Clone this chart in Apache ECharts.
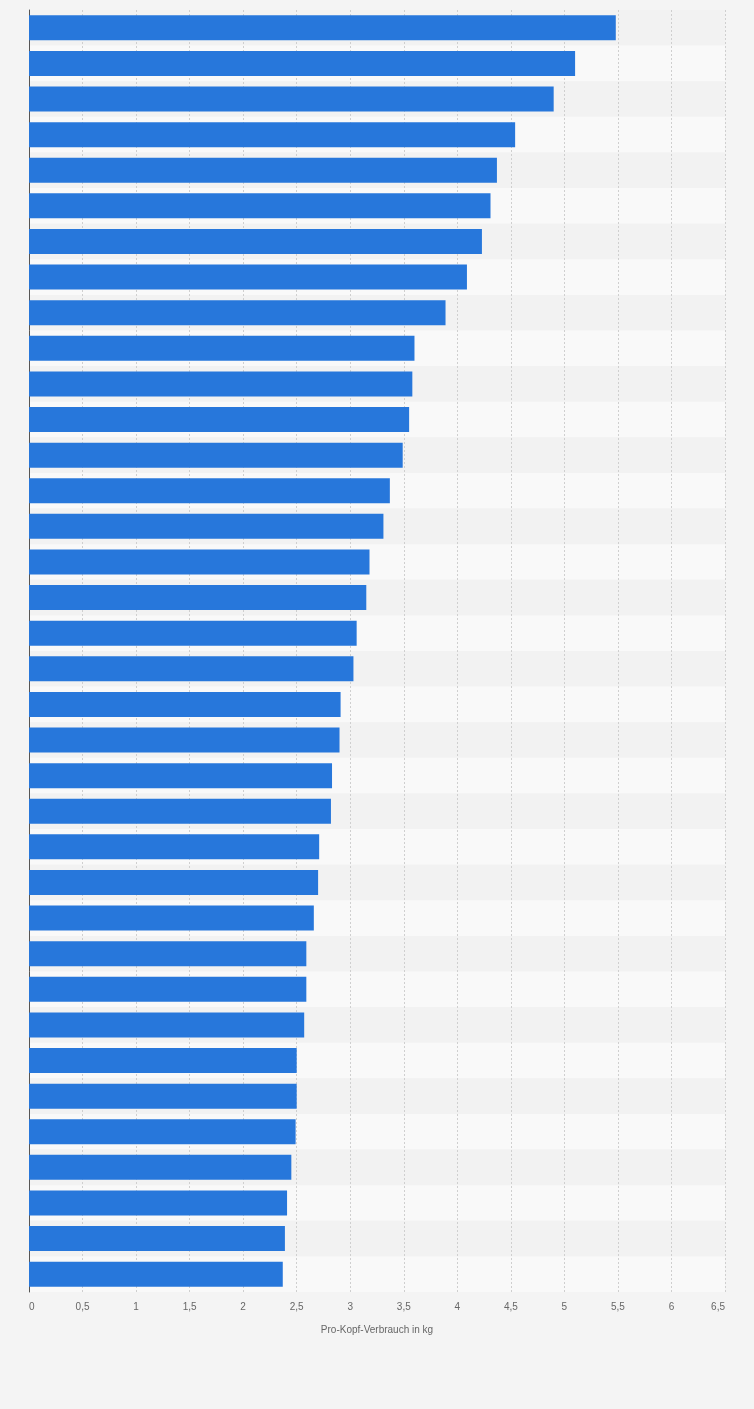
<!DOCTYPE html>
<html>
<head>
<meta charset="utf-8">
<script src="https://cdn.jsdelivr.net/npm/echarts@6/dist/echarts.min.js"></script>
<style>
html,body{margin:0;padding:0;background:#f4f4f4;}
#c{width:754px;height:1409px;}
</style>
</head>
<body>
<div id="c"></div>
<script>
const categories = Array.from({length:36}, (_, i) => String(i + 1));
const values = [5.48, 5.10, 4.90, 4.54, 4.37, 4.31, 4.23, 4.09, 3.89, 3.60, 3.58, 3.55,
  3.49, 3.37, 3.31, 3.18, 3.15, 3.06, 3.03, 2.91, 2.90, 2.83, 2.82, 2.71,
  2.70, 2.66, 2.59, 2.59, 2.57, 2.50, 2.50, 2.49, 2.45, 2.41, 2.39, 2.37];
const axisTitle = 'Pro-Kopf-Verbrauch in kg';

const chart = echarts.init(document.getElementById('c'));
chart.setOption({
  backgroundColor: '#f4f4f4',
  animation: false,
  grid: {left: 29, right: 29, top: 10, bottom: 117, containLabel: false},
  xAxis: {
    type: 'value',
    min: 0, max: 6.5, interval: 0.5,
    name: axisTitle,
    nameLocation: 'middle',
    nameGap: 33,
    nameTextStyle: {color: '#666', fontSize: 10, fontFamily: 'Liberation Sans, Arial, sans-serif'},
    axisLine: {show: false},
    axisTick: {show: false},
    axisLabel: {
      color: '#666', fontSize: 10, margin: 10,
      fontFamily: 'Liberation Sans, Arial, sans-serif',
      alignMinLabel: 'left', alignMaxLabel: 'right',
      formatter: v => String(v).replace('.', ',')
    },
    splitLine: {show: true, lineStyle: {color: '#cfcfcf', type: [2, 2], width: 1}}
  },
  yAxis: {
    type: 'category',
    data: categories,
    inverse: true,
    axisLine: {show: true, lineStyle: {color: '#555', width: 1}},
    axisTick: {show: false},
    axisLabel: {show: false},
    splitArea: {show: true, areaStyle: {color: ['#f2f2f2', '#f9f9f9']}}
  },
  series: [{
    type: 'bar',
    data: values,
    barWidth: 25,
    itemStyle: {color: '#2777db'}
  }]
});
</script>
</body>
</html>
